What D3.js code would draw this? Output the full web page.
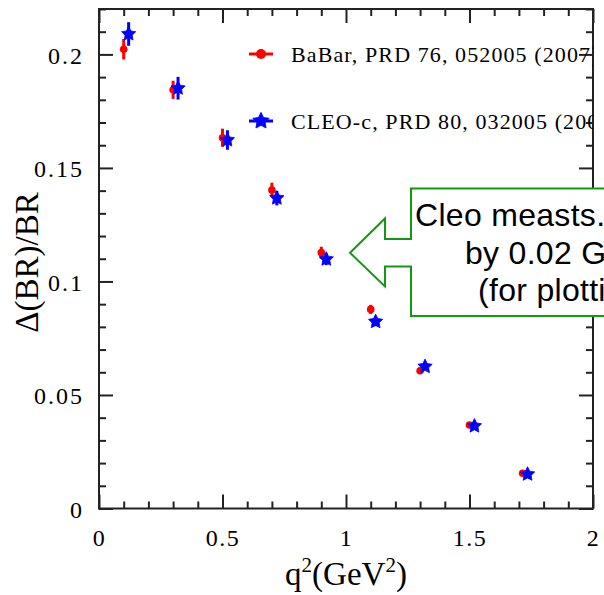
<!DOCTYPE html>
<html>
<head>
<meta charset="utf-8">
<script src="https://cdn.jsdelivr.net/npm/d3@7"></script>
<style>
  html, body { margin: 0; padding: 0; background: #fff; }
  svg { display: block; }
</style>
</head>
<body>
<svg id="chart" width="604" height="595"></svg>
<script>
// q^2 bin centres (GeV^2) and relative BR uncertainty per bin
const q2Babar = [0.1, 0.3, 0.5, 0.7, 0.9, 1.1, 1.3, 1.5, 1.715];
const babarValues = [0.2023, 0.1844, 0.1633, 0.1403, 0.1127, 0.0877, 0.0607, 0.0368, 0.0155];
const babarErrors = [0.0045, 0.0040, 0.0040, 0.0032, 0.0026, 0.0020, 0.0015, 0.0012, 0.0010];

// CLEO-c points, drawn displaced along q^2
const cleoShift = 0.02;
const cleoValues = [0.2090, 0.1851, 0.1623, 0.1367, 0.1098, 0.0823, 0.0625, 0.0363, 0.0151];
const cleoErrors = [0.0052, 0.0050, 0.0043, 0.0032, 0.0026, 0.0020, 0.0015, 0.0012, 0.0010];

const xTickValues = [0, 0.5, 1, 1.5, 2];
const xTickLabels = ["0", "0.5", "1", "1.5", "2"];
const yTickValues = [0, 0.05, 0.1, 0.15, 0.2];
const yTickLabels = ["0", "0.05", "0.1", "0.15", "0.2"];

const legendLabels = ["BaBar, PRD 76, 052005 (2007)", "CLEO-c, PRD 80, 032005 (2009)"];
const calloutLines = ["Cleo measts. shifted", "by 0.02 GeV", "(for plotting)"];

const svg = d3.select("#chart");
const serif = "'Liberation Serif', 'Times New Roman', 'DejaVu Serif', serif";
const sans = "'Liberation Sans', Arial, 'DejaVu Sans', sans-serif";
const axisColor = "#222";

const L = 99, R = 593, T = 9, B = 508.5;
const x = d3.scaleLinear().domain([0, 2]).range([L, R]);
const y = d3.scaleLinear().domain([0, 0.22]).range([B, T]);

const minorX = d3.range(0, 21).map(i => i / 10).filter(v => Math.round(v * 10) % 5 !== 0);
const minorY = d3.range(0, 23).map(i => i / 100).filter(v => Math.round(v * 100) % 5 !== 0);

// chunky five-pointed star used for the CLEO-c markers
const fatStar = {
  draw(context, size) {
    const ro = Math.sqrt(size) / 2, ri = ro * 0.5;
    for (let k = 0; k < 10; k++) {
      const a = -Math.PI / 2 + k * Math.PI / 5;
      const r = k % 2 ? ri : ro;
      const px = r * Math.cos(a), py = r * Math.sin(a);
      k ? context.lineTo(px, py) : context.moveTo(px, py);
    }
    context.closePath();
  }
};

// frame + inward ticks on all four sides
function drawAxis(axisFn, scale, pos, values, size, withLabels) {
  const ax = axisFn(scale).tickValues(values).tickSize(-size).tickSizeOuter(0);
  if (!withLabels) ax.tickFormat("");
  const g = svg.append("g").attr("transform", pos).call(ax);
  g.select(".domain").remove();
  g.selectAll(".tick line").attr("stroke", axisColor).attr("stroke-width", 2);
  return g;
}
drawAxis(d3.axisBottom, x, `translate(0,${B})`, minorX, 7, false);
drawAxis(d3.axisTop, x, `translate(0,${T})`, minorX, 7, false);
drawAxis(d3.axisTop, x, `translate(0,${T})`, xTickValues, 14, false);
drawAxis(d3.axisLeft, y, `translate(${L},0)`, minorY, 7, false);
drawAxis(d3.axisRight, y, `translate(${R},0)`, minorY, 7, false);
drawAxis(d3.axisRight, y, `translate(${R},0)`, yTickValues, 14, false);

const gx = drawAxis(d3.axisBottom, x, `translate(0,${B})`, xTickValues, 14, true);
gx.selectAll(".tick text")
  .text((d, i) => xTickLabels[i])
  .attr("y", 37.5).attr("dy", 0)
  .attr("fill", "#000")
  .style("font-family", serif).style("font-size", "24px").style("letter-spacing", "1.5px");

const gy = drawAxis(d3.axisLeft, y, `translate(${L},0)`, yTickValues, 14, true);
gy.selectAll(".tick text")
  .text((d, i) => yTickLabels[i])
  .attr("x", -15).attr("dy", "0.36em")
  .attr("fill", "#000")
  .style("font-family", serif).style("font-size", "24px").style("letter-spacing", "2px");

svg.append("rect")
  .attr("x", L).attr("y", T).attr("width", R - L).attr("height", B - T)
  .attr("fill", "none").attr("stroke", axisColor).attr("stroke-width", 2);

// axis titles
svg.append("text")
  .attr("transform", `translate(38,262.5) rotate(-90)`)
  .attr("text-anchor", "middle")
  .style("font-family", serif).style("font-size", "33px")
  .text("Δ(BR)/BR");

const xt = svg.append("text")
  .attr("x", x(1)).attr("y", 585)
  .attr("text-anchor", "middle")
  .style("font-family", serif).style("font-size", "33px");
xt.append("tspan").text("q");
xt.append("tspan").attr("dy", -13).style("font-size", "21px").text("2");
xt.append("tspan").attr("dy", 13).text("(GeV");
xt.append("tspan").attr("dy", -13).style("font-size", "21px").text("2");
xt.append("tspan").attr("dy", 13).text(")");

// data
const babar = q2Babar.map((q, i) => ({ q, v: babarValues[i], e: babarErrors[i] }));
const cleo = q2Babar.map((q, i) => ({ q: q + cleoShift, v: cleoValues[i], e: cleoErrors[i] }));

const gB = svg.append("g");
gB.selectAll("line").data(babar).join("line")
  .attr("x1", d => x(d.q)).attr("x2", d => x(d.q))
  .attr("y1", d => y(d.v - d.e)).attr("y2", d => y(d.v + d.e))
  .attr("stroke", "#ff0000").attr("stroke-width", 3);
gB.selectAll("circle").data(babar).join("circle")
  .attr("cx", d => x(d.q)).attr("cy", d => y(d.v)).attr("r", 3.8)
  .attr("fill", "#ff0000");

const star = d3.symbol().type(fatStar).size(225);
const gC = svg.append("g");
gC.selectAll("line").data(cleo).join("line")
  .attr("x1", d => x(d.q)).attr("x2", d => x(d.q))
  .attr("y1", d => y(d.v - d.e)).attr("y2", d => y(d.v + d.e))
  .attr("stroke", "#0000ff").attr("stroke-width", 3);
gC.selectAll("path").data(cleo).join("path")
  .attr("transform", d => `translate(${x(d.q)},${y(d.v)})`)
  .attr("d", star)
  .attr("fill", "#0000ff").attr("stroke", "#0000ff").attr("stroke-width", 0.8);

// legend (text runs past the right frame and is cut there)
svg.append("clipPath").attr("id", "frameClip")
  .append("rect").attr("x", 0).attr("y", 0).attr("width", R).attr("height", 595);
const leg = svg.append("g").attr("clip-path", "url(#frameClip)");
const legY = [54, 121];
legY.forEach((ly, i) => {
  leg.append("line").attr("x1", 249).attr("x2", 273).attr("y1", ly).attr("y2", ly)
    .attr("stroke", i === 0 ? "#ff0000" : "#0000ff").attr("stroke-width", 3);
  if (i === 0) {
    leg.append("circle").attr("cx", 261).attr("cy", ly).attr("r", 5).attr("fill", "#ff0000");
  } else {
    leg.append("path").attr("transform", `translate(261,${ly})`)
      .attr("d", d3.symbol().type(fatStar).size(300)())
      .attr("fill", "#0000ff").attr("stroke", "#0000ff").attr("stroke-width", 0.8);
  }
  leg.append("text")
    .attr("x", 291).attr("y", ly + 8)
    .style("font-family", serif).style("font-size", "22px").style("letter-spacing", "1.1px")
    .text(legendLabels[i]);
});

// callout box with left-pointing arrow
const cb = { left: 411, top: 188.5, bottom: 316, right: 640,
             stemTop: 239, stemBot: 266.5, headX: 385, headTop: 218.5, headBot: 286.5, tipX: 350 };
const tipY = (cb.stemTop + cb.stemBot) / 2;
const calloutPath = d3.path();
calloutPath.moveTo(cb.left, cb.stemTop);
calloutPath.lineTo(cb.left, cb.top);
calloutPath.lineTo(cb.right, cb.top);
calloutPath.lineTo(cb.right, cb.bottom);
calloutPath.lineTo(cb.left, cb.bottom);
calloutPath.lineTo(cb.left, cb.stemBot);
calloutPath.lineTo(cb.headX, cb.stemBot);
calloutPath.lineTo(cb.headX, cb.headBot);
calloutPath.lineTo(cb.tipX, tipY);
calloutPath.lineTo(cb.headX, cb.headTop);
calloutPath.lineTo(cb.headX, cb.stemTop);
calloutPath.closePath();
svg.append("path").attr("d", calloutPath.toString())
  .attr("fill", "#fff").attr("stroke", "#119a11").attr("stroke-width", 2)
  .attr("stroke-linejoin", "miter");

const lineX = [415, 465, 478];
const lineY = [225.5, 263.5, 300.5];
calloutLines.forEach((t, i) => {
  const tx = svg.append("text").attr("x", lineX[i]).attr("y", lineY[i])
    .style("font-family", sans).style("font-size", "32px").style("letter-spacing", "0.3px")
    .attr("fill", "#000");
  tx.append("tspan").text(t);
  if (i === 1) tx.append("tspan").attr("dy", -13).style("font-size", "20px").text("2");
});
</script>
</body>
</html>
